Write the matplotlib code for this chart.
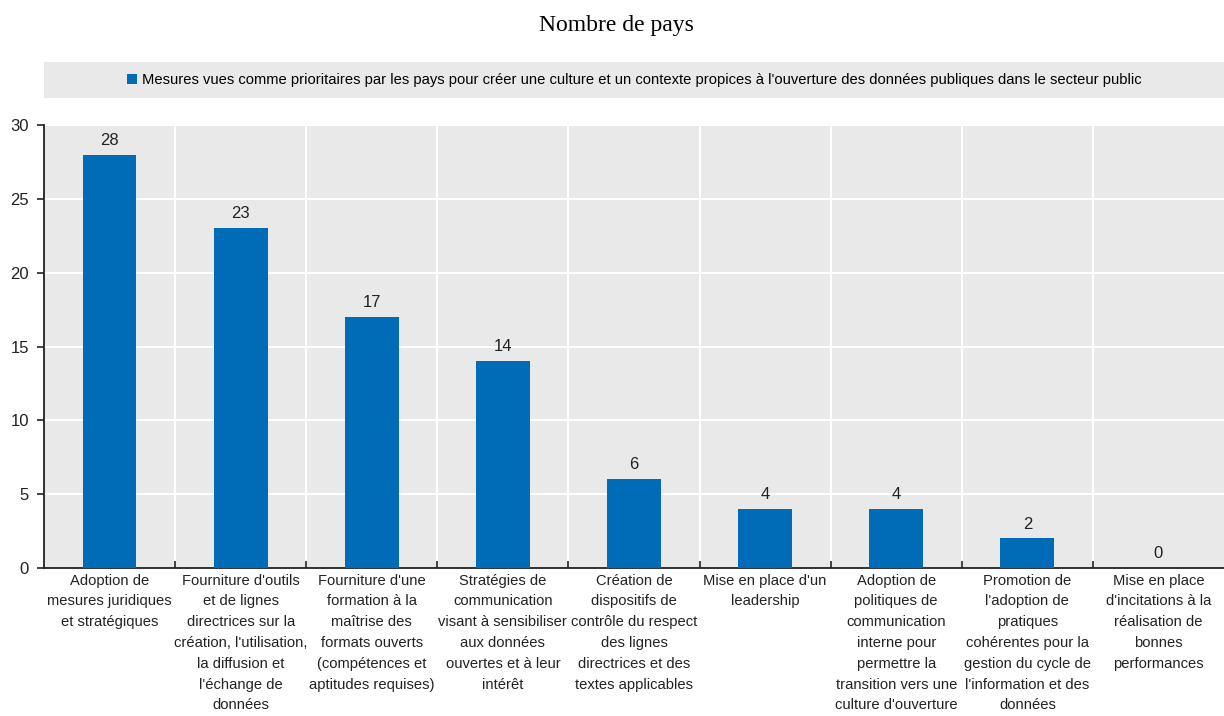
#!/usr/bin/env python3
"""Bar chart: measures prioritised by countries for an open government data culture."""

import matplotlib

matplotlib.use("Agg")
import matplotlib.pyplot as plt
from matplotlib.patches import Patch

CATEGORIES = [
    "Adoption de\nmesures juridiques\net stratégiques",
    "Fourniture d'outils\net de lignes\ndirectrices sur la\ncréation, l'utilisation,\nla diffusion et\nl'échange de\ndonnées",
    "Fourniture d'une\nformation à la\nmaîtrise des\nformats ouverts\n(compétences et\naptitudes requises)",
    "Stratégies de\ncommunication\nvisant à sensibiliser\naux données\nouvertes et à leur\nintérêt",
    "Création de\ndispositifs de\ncontrôle du respect\ndes lignes\ndirectrices et des\ntextes applicables",
    "Mise en place d'un\nleadership",
    "Adoption de\npolitiques de\ncommunication\ninterne pour\npermettre la\ntransition vers une\nculture d'ouverture",
    "Promotion de\nl'adoption de\npratiques\ncohérentes pour la\ngestion du cycle de\nl'information et des\ndonnées",
    "Mise en place\nd'incitations à la\nréalisation de\nbonnes\nperformances",
]
COUNTS = [28, 23, 17, 14, 6, 4, 4, 2, 0]
SERIES_LABEL = (
    "Mesures vues comme prioritaires par les pays pour créer une culture et un "
    "contexte propices à l'ouverture des données publiques dans le secteur public"
)
Y_TICKS = [0, 5, 10, 15, 20, 25, 30]

BLUE = "#006BB6"
PANEL = "#E9E9E9"
INK = "#222222"
SANS = ["Liberation Sans Narrow", "Liberation Sans", "DejaVu Sans"]

plt.rcParams["font.family"] = SANS

fig = plt.figure(figsize=(12.24, 7.16), dpi=100)
ax = fig.add_axes([0.036, 0.2067, 0.964, 0.6187])
ax.set_facecolor(PANEL)

n = len(CATEGORIES)
xs = list(range(n))
ax.bar(xs, COUNTS, width=0.41, color=BLUE, zorder=3)
for x, v in zip(xs, COUNTS):
    ax.annotate(str(v), (x, v), xytext=(0, 5), textcoords="offset points",
                ha="center", va="bottom", fontsize=12, color=INK)

ax.set_xlim(-0.5, n - 0.5)
ax.set_ylim(0, 30)
ax.set_yticks(Y_TICKS)
ax.tick_params(axis="y", direction="out", length=5, width=1.2, labelsize=12,
               pad=6, colors=INK)

# white separators between categories, ticks on the category boundaries
bounds = [i + 0.5 for i in range(n - 1)]
ax.set_xticks(bounds)
ax.set_xticklabels([])
ax.tick_params(axis="x", direction="in", length=5, width=1.2, colors=INK)
ax.set_xticks(xs, minor=True)
ax.set_xticklabels(CATEGORIES, minor=True, fontsize=10.6, linespacing=1.62,
                   color=INK)
ax.tick_params(axis="x", which="minor", length=0, pad=4)
for b in bounds:
    ax.axvline(b, color="white", linewidth=1.5, zorder=1)
for t in Y_TICKS[1:]:
    ax.axhline(t, color="white", linewidth=1.5, zorder=1)

for side in ("top", "right"):
    ax.spines[side].set_visible(False)
for side in ("left", "bottom"):
    ax.spines[side].set_linewidth(1.3)
    ax.spines[side].set_color(INK)

# legend band
band = fig.add_axes([0.036, 0.863, 0.964, 0.051])
band.set_facecolor(PANEL)
band.set_xticks([])
band.set_yticks([])
for s in band.spines.values():
    s.set_visible(False)
band.legend(handles=[Patch(facecolor=BLUE, label=SERIES_LABEL)],
            loc="center", frameon=False, fontsize=10.6, handlelength=0.7,
            handleheight=0.7, handletextpad=0.3)

fig.text(0.504, 0.965, "Nombre de pays", ha="center", va="center",
         fontsize=17, family=["Liberation Serif", "DejaVu Serif"])

fig.savefig("out.png", dpi=100)
